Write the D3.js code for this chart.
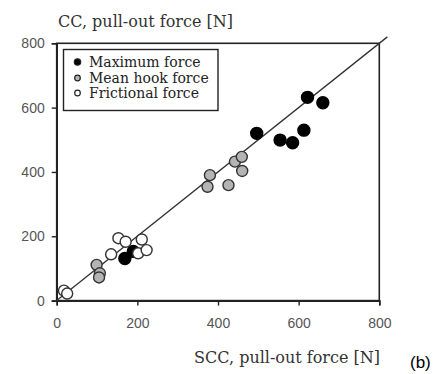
<!DOCTYPE html>
<html>
<head>
<meta charset="utf-8">
<script src="https://cdn.jsdelivr.net/npm/d3@7/dist/d3.min.js"></script>
<style>
  html, body { margin: 0; padding: 0; background: #fff; }
  svg { display: block; }
</style>
</head>
<body>
<svg id="chart" width="448" height="374"></svg>
<script>
// Pull-out force: SCC (x) versus CC (y), in newtons
const maxForceSCC = [169, 190, 496, 554, 585, 613, 622, 660];
const maxForceCC  = [131, 153, 520, 499, 491, 530, 632, 615];

const hookForceSCC = [99, 107, 105, 380, 374, 426, 442, 459, 460];
const hookForceCC  = [111, 85, 72, 390, 354, 359, 432, 447, 403];

const fricForceSCC = [18, 26, 135, 153, 171, 202, 211, 223];
const fricForceCC  = [31, 22, 144, 194, 183, 147, 190, 157];

const xTicks = [0, 200, 400, 600, 800];
const yTicks = [0, 200, 400, 600, 800];
const legendLabels = ["Maximum force", "Mean hook force", "Frictional force"];
const lineOfEquality = [0, 820];

const svg = d3.select("#chart");
const plotL = 56.7, plotR = 379.3, plotT = 43.3, plotB = 300.6;

const x = d3.scaleLinear().domain([0, 800]).range([plotL, plotR]);
const y = d3.scaleLinear().domain([0, 800]).range([plotB, plotT]);

const styles = [
  { fill: "#000", stroke: "#000", r: 6 },
  { fill: "#b4b4b4", stroke: "#333", r: 5.5 },
  { fill: "#fff", stroke: "#333", r: 5.5 }
];

// frame
svg.append("rect")
  .attr("x", plotL).attr("y", plotT)
  .attr("width", plotR - plotL).attr("height", plotB - plotT)
  .attr("fill", "none").attr("stroke", "#222").attr("stroke-width", 1.6);

// axes
const xAxis = svg.append("g")
  .attr("transform", `translate(0,${plotB})`)
  .call(d3.axisBottom(x).tickValues(xTicks).tickSize(5).tickPadding(12));
const yAxis = svg.append("g")
  .attr("transform", `translate(${plotL},0)`)
  .call(d3.axisLeft(y).tickValues(yTicks).tickSize(5).tickPadding(7));
[xAxis, yAxis].forEach(g => {
  g.select(".domain").attr("stroke", "#222").attr("stroke-width", 1.6);
  g.selectAll(".tick line").attr("stroke", "#222").attr("stroke-width", 1.4);
  g.selectAll(".tick text")
    .attr("fill", "#555")
    .style("font-family", "'Liberation Sans', Arial, sans-serif")
    .style("font-size", "14px");
});

// line of equality
svg.append("line")
  .attr("x1", x(lineOfEquality[0])).attr("y1", y(lineOfEquality[0]))
  .attr("x2", x(lineOfEquality[1])).attr("y2", y(lineOfEquality[1]))
  .attr("stroke", "#333").attr("stroke-width", 1.3);

// points: maximum first, then mean hook, frictional on top
const series = [
  { xs: maxForceSCC, ys: maxForceCC, s: styles[0] },
  { xs: hookForceSCC, ys: hookForceCC, s: styles[1] },
  { xs: fricForceSCC, ys: fricForceCC, s: styles[2] }
];
series.forEach(ser => {
  svg.append("g").selectAll("circle")
    .data(ser.xs.map((v, i) => [v, ser.ys[i]]))
    .join("circle")
    .attr("cx", d => x(d[0])).attr("cy", d => y(d[1]))
    .attr("r", ser.s.r)
    .attr("fill", ser.s.fill)
    .attr("stroke", ser.s.stroke)
    .attr("stroke-width", 1.4);
});

// legend
const leg = svg.append("g");
leg.append("rect")
  .attr("x", 63.5).attr("y", 49.5).attr("width", 154.5).attr("height", 61)
  .attr("fill", "#fff").attr("stroke", "#222").attr("stroke-width", 1.4);
const legRows = [62, 78, 93];
legendLabels.forEach((lab, i) => {
  leg.append("circle")
    .attr("cx", 77.5).attr("cy", legRows[i])
    .attr("r", i === 0 ? 3.2 : 2.8)
    .attr("fill", styles[i].fill).attr("stroke", "#222").attr("stroke-width", 1.2);
  leg.append("text")
    .attr("x", 89).attr("y", legRows[i] + 4.5)
    .attr("fill", "#222")
    .style("font-family", "'DejaVu Serif', serif")
    .style("font-size", "14px")
    .text(lab);
});

// axis titles
svg.append("text")
  .attr("x", 58).attr("y", 27)
  .attr("fill", "#333")
  .style("font-family", "'DejaVu Serif', serif")
  .style("font-size", "16px")
  .text("CC, pull-out force [N]");
svg.append("text")
  .attr("x", 380).attr("y", 363)
  .attr("text-anchor", "end")
  .attr("fill", "#333")
  .style("font-family", "'DejaVu Serif', serif")
  .style("font-size", "16px")
  .text("SCC, pull-out force [N]");
svg.append("text")
  .attr("x", 410).attr("y", 368)
  .attr("fill", "#000")
  .style("font-family", "'Liberation Sans', Arial, sans-serif")
  .style("font-size", "17px")
  .text("(b)");
</script>
</body>
</html>
